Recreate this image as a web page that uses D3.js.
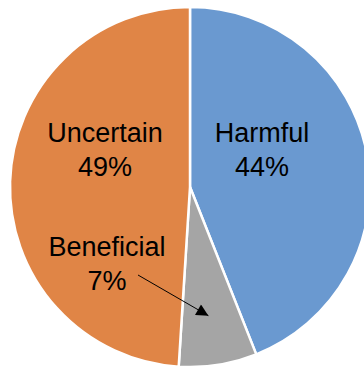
<!DOCTYPE html>
<html>
<head>
<meta charset="utf-8">
<script src="https://cdn.jsdelivr.net/npm/d3@7"></script>
<style>
  body { margin: 0; background: #fff; }
  svg { display: block; }
  .lbl { font-family: "Liberation Sans", Arial, sans-serif; font-size: 27px; fill: #000; }
</style>
</head>
<body>
<div id="chart"></div>
<script>
var categories = ["Harmful", "Beneficial", "Uncertain"];
var values = [44, 7, 49];
var colors = ["#6A99D0", "#A5A5A5", "#E08546"];

var w = 364, h = 368;
var cx = 190, cy = 187, r = 180;

var svg = d3.select("#chart")
  .append("svg")
  .attr("width", w)
  .attr("height", h);

// arrow marker
svg.append("defs").append("marker")
  .attr("id", "arrow")
  .attr("viewBox", "0 0 10 10")
  .attr("refX", 10)
  .attr("refY", 5)
  .attr("markerWidth", 14)
  .attr("markerHeight", 12)
  .attr("markerUnits", "userSpaceOnUse")
  .attr("orient", "auto")
  .append("path")
  .attr("d", "M0,0 L10,5 L0,10 Z")
  .attr("fill", "#000");

var g = svg.append("g")
  .attr("transform", "translate(" + cx + "," + cy + ")");

var pie = d3.pie().sort(null).value(function(d) { return d; });
var arcs = pie(values);

var arc = d3.arc().innerRadius(0).outerRadius(r);

g.selectAll("path.slice")
  .data(arcs)
  .enter()
  .append("path")
  .attr("class", "slice")
  .attr("d", arc)
  .attr("fill", function(d, i) { return colors[i]; })
  .attr("stroke", "#fff")
  .attr("stroke-width", 2.5)
  .attr("stroke-linejoin", "round");

// label positions relative to centre (layout only)
var labelPos = [[72, -45], [-83, 69], [-85, -45]];

labelPos.forEach(function(p, i) {
  var t = g.append("text")
    .attr("class", "lbl")
    .attr("text-anchor", "middle")
    .attr("x", p[0])
    .attr("y", p[1]);
  t.append("tspan").attr("x", p[0]).text(categories[i]);
  t.append("tspan").attr("x", p[0]).attr("dy", 34).text(values[i] + "%");
});

// arrow from "7%" into the small slice
var tipArc = d3.arc().innerRadius(0).outerRadius(260)
  .startAngle(function(d) { return d.startAngle + 0.03; });
var tip = tipArc.centroid(arcs[1]);
g.append("line")
  .attr("x1", -52)
  .attr("y1", 88)
  .attr("x2", tip[0])
  .attr("y2", tip[1])
  .attr("stroke", "#000")
  .attr("stroke-width", 1)
  .attr("marker-end", "url(#arrow)");
</script>
</body>
</html>
